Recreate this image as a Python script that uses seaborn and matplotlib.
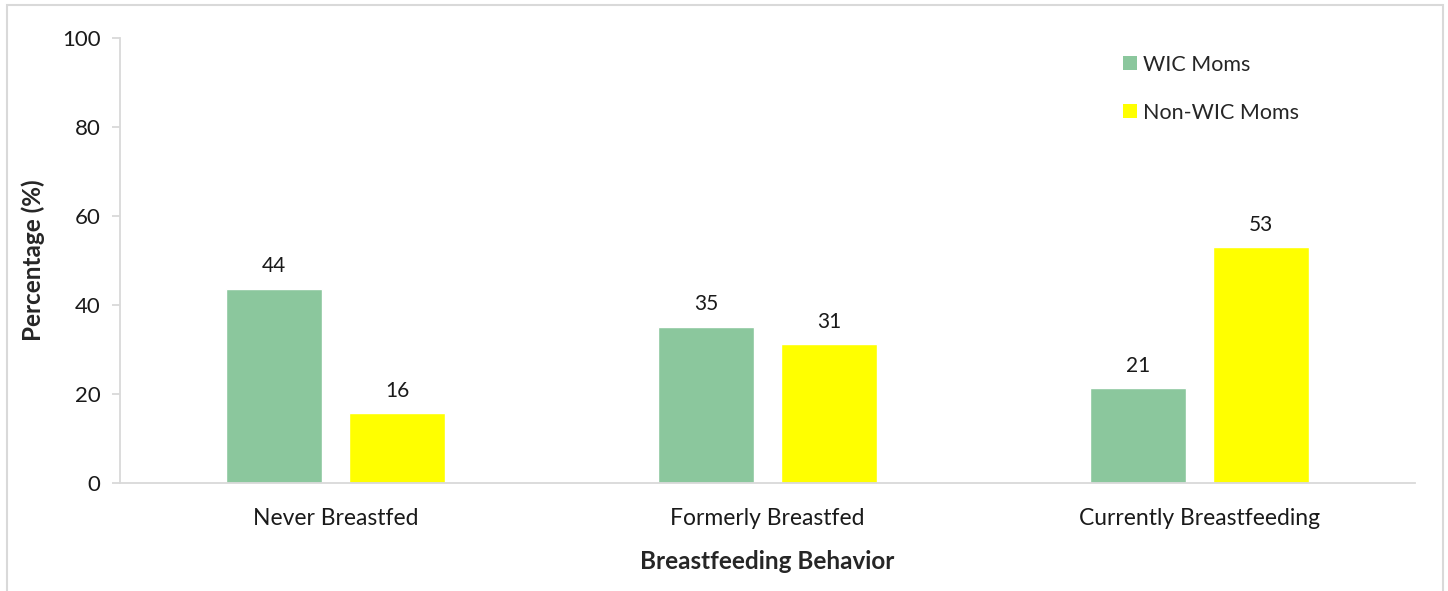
import pandas as pd
import matplotlib.pyplot as plt
import seaborn as sns
from matplotlib.patches import Rectangle, Patch

# Chart data
behaviors = ['Never Breastfed', 'Formerly Breastfed', 'Currently Breastfeeding']
groups = ['WIC Moms', 'Non-WIC Moms']
wic_pct = [43.7, 35.1, 21.3]
non_wic_pct = [15.7, 31.2, 53.0]
y_ticks = [0, 20, 40, 60, 80, 100]

colors = {'WIC Moms': '#8BC79D', 'Non-WIC Moms': '#FFFF00'}

df = pd.DataFrame({
    'Behavior': behaviors * 2,
    'Group': [groups[0]] * 3 + [groups[1]] * 3,
    'Pct': wic_pct + non_wic_pct,
})

sns.set_style('white')
plt.rcParams['font.family'] = ['Lato', 'DejaVu Sans']

fig = plt.figure(figsize=(14.48, 5.91), dpi=100)
ax = fig.add_axes([120 / 1448, 1 - 483 / 591, 1295 / 1448, 445 / 591])

sns.barplot(data=df, x='Behavior', y='Pct', hue='Group', order=behaviors,
            hue_order=groups, palette=colors, width=0.57, gap=0.22,
            saturation=1, ax=ax, legend=False)

# value labels above bars
for cont in ax.containers:
    ax.bar_label(cont, fmt='%.0f', padding=9, fontsize=15, color='#1a1a1a')

ax.set_ylim(0, 100)
ax.set_yticks(y_ticks)
ax.set_xlim(-0.5, 2.5)

# Excel style axes
grey = '#D9D9D9'
for side in ['top', 'right']:
    ax.spines[side].set_visible(False)
for side in ['left', 'bottom']:
    ax.spines[side].set_color(grey)
    ax.spines[side].set_linewidth(1.3)

ax.set_xticks([0, 1, 2])
ax.set_xticks([-0.5, 0.5, 1.5, 2.5], minor=True)
ax.tick_params(axis='x', which='major', length=0, pad=18, labelsize=16.5, labelcolor='#1a1a1a')
ax.tick_params(axis='x', which='minor', length=6, color=grey, width=1.3, direction='out')
ax.tick_params(axis='y', length=6, color=grey, width=1.3, direction='out', pad=8,
               labelsize=16, labelcolor='#1a1a1a', left=True)

ax.set_xlabel('Breastfeeding Behavior', fontsize=17.5, fontweight='bold', labelpad=15)
ax.set_ylabel('Percentage (%)', fontsize=17.5, fontweight='bold', labelpad=12)

handles = [Patch(facecolor=colors[g], edgecolor='none') for g in groups]
fig.legend(handles, groups, loc='upper left', bbox_to_anchor=(1114 / 1448, 1 - 46 / 591),
           frameon=False, fontsize=15.5, handlelength=0.65, handleheight=0.65,
           handletextpad=0.3, labelspacing=1.3, borderaxespad=0)

# light frame around the chart area
fig.patches.append(Rectangle((7 / 1448, -0.05), 1436 / 1448, 1.05 - 5 / 591,
                             transform=fig.transFigure, fill=False,
                             edgecolor=grey, linewidth=1.5))

fig.savefig('out.png', dpi=100)
